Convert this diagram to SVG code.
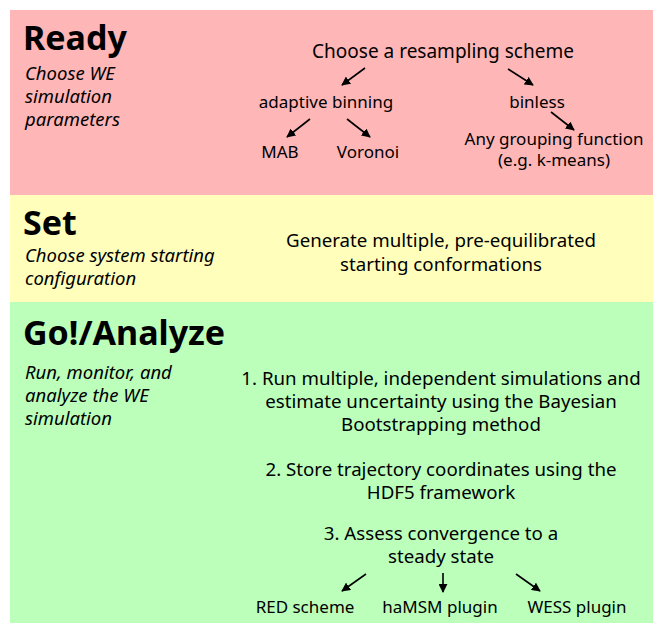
<svg xmlns="http://www.w3.org/2000/svg" width="653" height="624" viewBox="0 0 653 624">
<style>
text{font-family:"Noto Sans","Open Sans","DejaVu Sans",sans-serif;fill:#000}
.h{font-size:34px;font-weight:bold}
.i{font-size:18.5px;font-style:italic}
.t{font-size:18.7px;text-anchor:middle}
.s{font-size:17px;text-anchor:middle}
.a{stroke:#000;stroke-width:1.6;fill:none;marker-end:url(#ah)}
</style>
<defs>
<marker id="ah" viewBox="0 0 10 10" refX="9" refY="5" markerWidth="9" markerHeight="9" markerUnits="userSpaceOnUse" orient="auto">
<path d="M0,0 L10,5 L0,10 z" fill="#000"/>
</marker>
</defs>
<rect x="0" y="0" width="653" height="624" fill="#fff"/>
<g id="ready">
<rect x="10" y="10" width="643" height="185" fill="#ffb6b6"/>
<text class="h" x="23" y="50">Ready</text>
<text class="i" x="25" y="80">Choose WE<tspan x="25" y="103">simulation</tspan><tspan x="25" y="126">parameters</tspan></text>
</g>
<g id="resampling"><text class="t" x="443" y="58" style="font-size:19px">Choose a resampling scheme</text></g>
<g id="adaptive"><text class="s" x="326" y="108">adaptive binning</text></g>
<g id="binless"><text class="s" x="537" y="108">binless</text></g>
<g id="mab"><text class="s" x="280" y="158">MAB</text></g>
<g id="voronoi"><text class="s" x="368" y="158">Voronoi</text></g>
<g id="grouping"><text class="s" x="554" y="145">Any grouping function<tspan x="554" y="166">(e.g. k-means)</tspan></text></g>
<g id="set">
<rect x="10" y="195" width="643" height="107" fill="#ffffbb"/>
<text class="h" x="23" y="235">Set</text>
<text class="i" x="25" y="262">Choose system starting<tspan x="25" y="285">configuration</tspan></text>
</g>
<g id="generate"><text class="t" x="441" y="247">Generate multiple, pre-equilibrated<tspan x="441" y="271">starting conformations</tspan></text></g>
<g id="go">
<rect x="10" y="302" width="643" height="321" fill="#bbffbb"/>
<text class="h" x="23" y="345">Go!/Analyze</text>
<text class="i" x="25" y="379">Run, monitor, and<tspan x="25" y="402">analyze the WE</tspan><tspan x="25" y="425">simulation</tspan></text>
</g>
<g id="step1"><text class="t" x="441" y="385">1. Run multiple, independent simulations and<tspan x="441" y="408">estimate uncertainty using the Bayesian</tspan><tspan x="441" y="431">Bootstrapping method</tspan></text></g>
<g id="step2"><text class="t" x="441" y="476">2. Store trajectory coordinates using the<tspan x="441" y="499">HDF5 framework</tspan></text></g>
<g id="step3"><text class="t" x="441" y="540">3. Assess convergence to a<tspan x="441" y="563">steady state</tspan></text></g>
<g id="red"><text class="s" x="305" y="613">RED scheme</text></g>
<g id="hamsm"><text class="s" x="440" y="613">haMSM plugin</text></g>
<g id="wess"><text class="s" x="577" y="613">WESS plugin</text></g>
<g id="connectors">
<line class="a" x1="365" y1="68" x2="342" y2="85"/>
<line class="a" x1="508" y1="69" x2="533" y2="85"/>
<line class="a" x1="310" y1="119" x2="287" y2="137"/>
<line class="a" x1="347" y1="119" x2="370" y2="137"/>
<line class="a" x1="551" y1="112" x2="574" y2="130"/>
<line class="a" x1="366" y1="574" x2="342" y2="591"/>
<line class="a" x1="443" y1="573" x2="443" y2="592"/>
<line class="a" x1="516" y1="574" x2="540" y2="591"/>
</g>
</svg>
